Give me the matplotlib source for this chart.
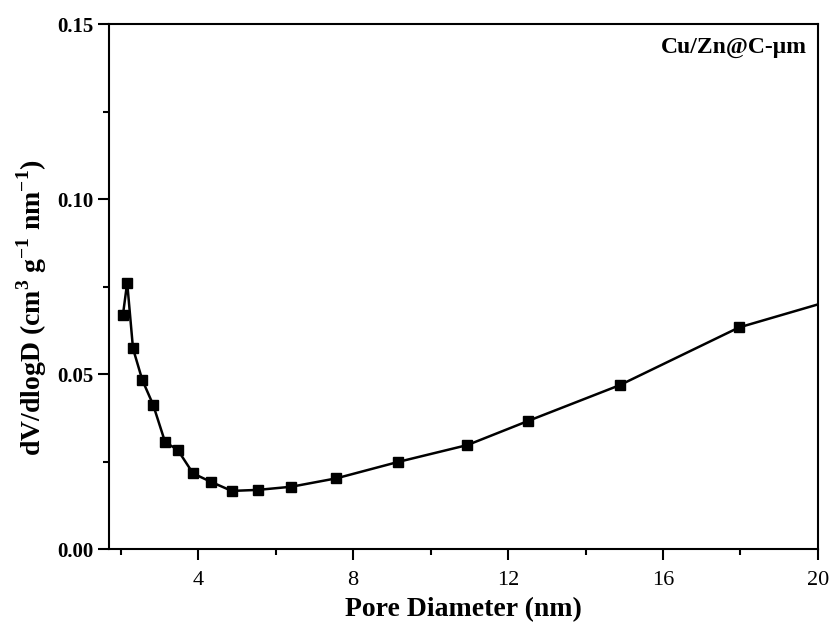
import matplotlib
matplotlib.use("Agg")
import matplotlib.pyplot as plt
from matplotlib.ticker import FixedLocator

plt.rcParams['font.family'] = ['Liberation Serif', 'DejaVu Serif']
plt.rcParams['mathtext.fontset'] = 'custom'
plt.rcParams['mathtext.rm'] = 'Liberation Serif'
plt.rcParams['mathtext.bf'] = 'Liberation Serif:bold'

pore_diameter = [2.06, 2.17, 2.32, 2.56, 2.84, 3.15, 3.47, 3.87, 4.33, 4.87,
                 5.55, 6.41, 7.57, 9.17, 10.95, 12.52, 14.88, 17.96, 21.8]
dv_dlogd = [0.0669, 0.0761, 0.0573, 0.0483, 0.0412, 0.0305, 0.0284, 0.0216,
            0.0192, 0.0166, 0.0169, 0.0178, 0.0202, 0.0249, 0.0297, 0.0366,
            0.0468, 0.0633, 0.0757]
x_ticks = [4, 8, 12, 16, 20]
y_ticks = [0.00, 0.05, 0.10, 0.15]
sample_label = "Cu/Zn@C-μm"

fig = plt.figure(figsize=(8.3, 6.32), dpi=100)
ax = fig.add_axes([0.1313, 0.1313, 0.8542, 0.8307])

ax.plot(pore_diameter, dv_dlogd, color='black', lw=1.8, marker='s',
        markersize=7, markerfacecolor='black', markeredgecolor='black',
        clip_on=True)

ax.set_xlim(1.7, 20)
ax.set_ylim(0, 0.15)
ax.xaxis.set_major_locator(FixedLocator(x_ticks))
ax.xaxis.set_minor_locator(FixedLocator([2, 6, 10, 14, 18]))
ax.yaxis.set_major_locator(FixedLocator(y_ticks))
ax.yaxis.set_minor_locator(FixedLocator([0.025, 0.075, 0.125]))
ax.set_yticklabels([f"{v:.2f}" for v in y_ticks], fontweight='bold', fontsize=15)
ax.set_xticklabels([str(v) for v in x_ticks], fontsize=16)

ax.tick_params(which='major', direction='out', length=8, width=1.5)
ax.tick_params(which='minor', direction='out', length=4.5, width=1.5)
ax.tick_params(axis='x', pad=8)
for s in ax.spines.values():
    s.set_linewidth(1.5)

ax.set_xlabel("Pore Diameter (nm)", fontsize=20, fontweight='bold', labelpad=5)
ax.set_ylabel(r"dV/dlogD (cm$^{\mathbf{3}}$ g$^{\mathbf{-1}}$ nm$^{\mathbf{-1}}$)",
              fontsize=20, fontweight='bold')
ax.yaxis.set_label_coords(-0.085, 0.46)

ax.text(0.985, 0.975, sample_label, transform=ax.transAxes, ha='right', va='top',
        fontsize=17, fontweight='bold')

fig.savefig("out.png", dpi=100)
